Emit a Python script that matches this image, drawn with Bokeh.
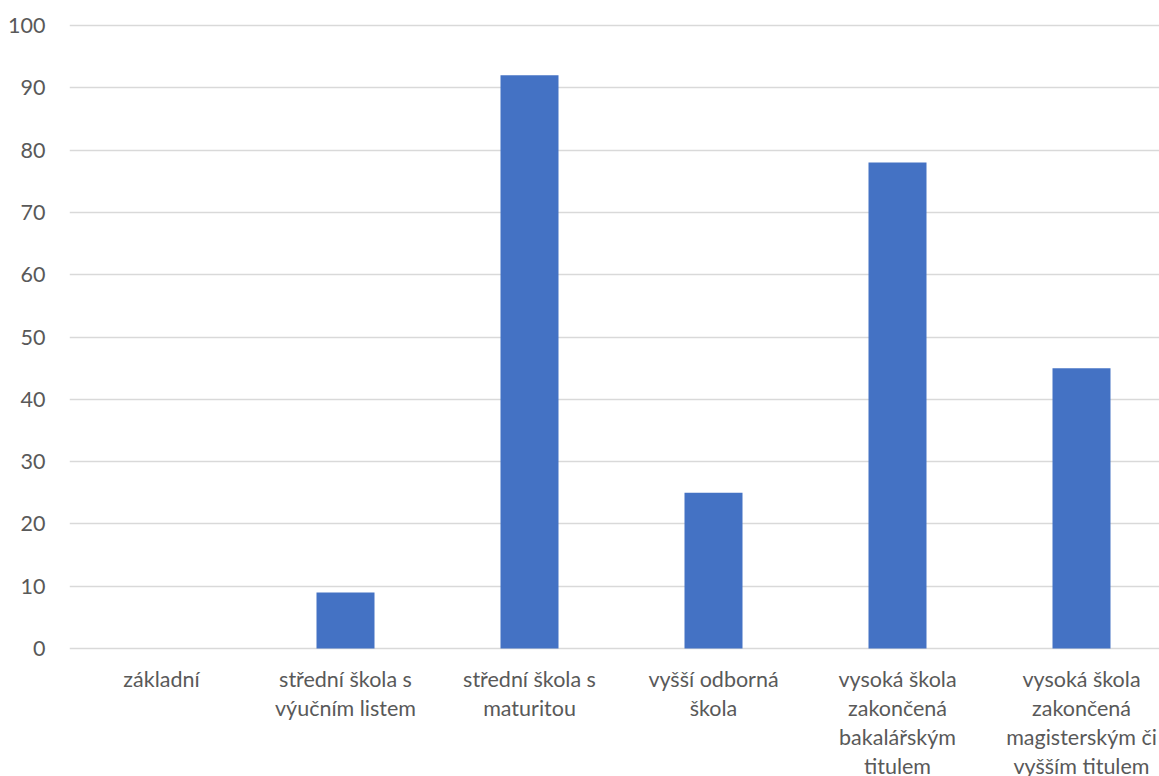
from bokeh.plotting import figure
from bokeh.models import Range1d, FixedTicker, ColumnDataSource
from bokeh.core.properties import value
from bokeh.embed import file_html
from bokeh.resources import INLINE

# Education levels and their counts
categories = [
    "základní",
    "střední škola s\nvýučním listem",
    "střední škola s\nmaturitou",
    "vyšší odborná\nškola",
    "vysoká škola\nzakončená\nbakalářským\ntitulem",
    "vysoká škola\nzakončená\nmagisterským či\nvyšším titulem",
]
counts = [0, 9, 92, 25, 78, 45]
y_ticks = [0, 10, 20, 30, 40, 50, 60, 70, 80, 90, 100]

FONT = "Lato"
TEXT_COLOR = "#595959"
GRID_COLOR = "#d9d9d9"
BAR_COLOR = "#4472C4"

W, H = 1159, 776
LEFT = 69
ZERO_PX, TOP_PX = 648, 25           # pixel rows of 0 and 100
CAT_PX = 184                        # pixel width of one category slot

px_per_unit = (ZERO_PX - TOP_PX) / 100.0
y_start = -(H - ZERO_PX) / px_per_unit
y_end = 100 + TOP_PX / px_per_unit
x_start = -0.5
x_end = x_start + (W - LEFT) / CAT_PX

positions = list(range(len(categories)))
src = ColumnDataSource(dict(x=positions, top=counts, label=categories))

p = figure(
    width=W, height=H,
    x_range=Range1d(x_start, x_end), y_range=Range1d(y_start, y_end),
    output_backend="svg", toolbar_location=None,
    min_border_left=LEFT, min_border_right=0, min_border_top=0, min_border_bottom=0,
)
p.outline_line_color = None
p.background_fill_color = "white"
p.border_fill_color = "white"

p.xaxis.visible = False
p.xgrid.visible = False

yax = p.yaxis[0]
yax.ticker = FixedTicker(ticks=y_ticks)
yax.axis_line_color = None
yax.major_tick_line_color = None
yax.minor_tick_line_color = None
yax.major_label_text_font = FONT
yax.major_label_text_font_size = "21.5px"
yax.major_label_text_color = TEXT_COLOR
yax.major_label_standoff = 18

p.ygrid.ticker = FixedTicker(ticks=y_ticks)
p.ygrid.grid_line_color = GRID_COLOR
p.ygrid.grid_line_width = 1.5

p.vbar(x="x", top="top", bottom=0, width=58 / CAT_PX, source=src,
       fill_color=BAR_COLOR, line_color=None)

p.text(x="x", y=0, text="label", source=src, y_offset=17,
       text_align="center", text_baseline="top",
       text_font=value(FONT), text_font_size="21.5px",
       text_color=TEXT_COLOR, text_line_height=1.12)

open("out.html", "w").write(file_html(p, INLINE))
